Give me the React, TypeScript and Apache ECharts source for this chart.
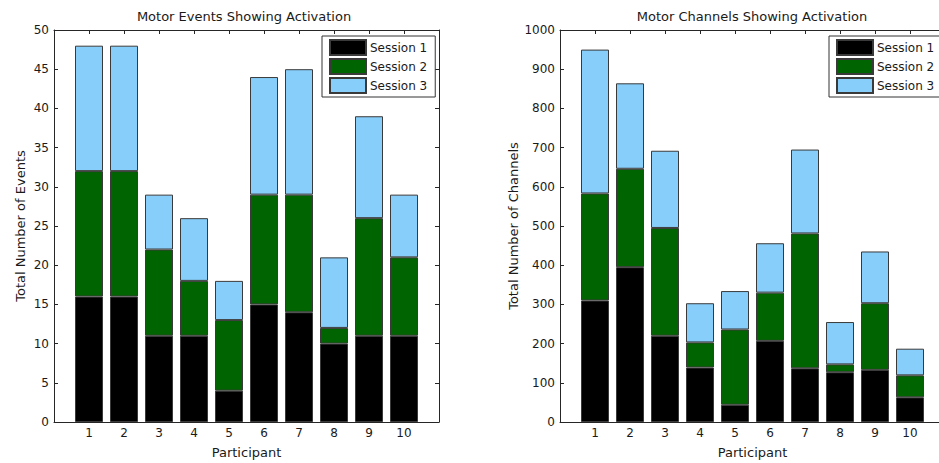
import React, { useEffect, useRef } from "react";
import * as echarts from "echarts";

const participants = [1, 2, 3, 4, 5, 6, 7, 8, 9, 10];
const sessionNames = ["Session 1", "Session 2", "Session 3"];
const sessionColors = ["#000000", "#006400", "#87CEFA"];

const eventsS1 = [16, 16, 11, 11, 4, 15, 14, 10, 11, 11];
const eventsS2 = [16, 16, 11, 7, 9, 14, 15, 2, 15, 10];
const eventsS3 = [16, 16, 7, 8, 5, 15, 16, 9, 13, 8];

const channelsS1 = [310, 395, 220, 139, 44, 207, 137, 127, 133, 63];
const channelsS2 = [273, 251, 275, 64, 192, 123, 344, 20, 170, 56];
const channelsS3 = [367, 218, 197, 100, 98, 126, 214, 108, 132, 68];

const leftTitle = "Motor Events Showing Activation";
const rightTitle = "Motor Channels Showing Activation";
const xName = "Participant";
const leftYName = "Total Number of Events";
const rightYName = "Total Number of Channels";

const FONT = "DejaVu Sans";
const AX = "#262626";

export default function App() {
  const ref = useRef<HTMLDivElement>(null);
  useEffect(() => {
    if (!ref.current) return;
    const chart = echarts.init(ref.current, undefined, { renderer: "svg" });
    const tickText = { fontFamily: FONT, fontSize: 12, color: "#1a1a1a" };
    const nameText = { fontFamily: FONT, fontSize: 13, color: "#1a1a1a" };

    // padded category list: empty slot on each side gives the 0..11 range
    const cats = ["", ...participants.map(String), ""];

    const xAxisBase = (gridIndex: number, position: "bottom" | "top") => ({
      type: "category",
      gridIndex,
      position,
      data: cats,
      boundaryGap: false,
      axisLine: { show: true, onZero: false, lineStyle: { color: AX, width: 1 } },
      axisTick: { show: true, inside: true, length: 4, interval: 0, lineStyle: { color: AX } },
      splitLine: { show: false },
      axisLabel: { show: position === "bottom", margin: 5, interval: 0, ...tickText },
      name: position === "bottom" ? xName : "",
      nameLocation: "middle",
      nameGap: 24,
      nameTextStyle: nameText,
    });

    const yAxisBase = (
      gridIndex: number,
      position: "left" | "right",
      max: number,
      interval: number,
      name: string,
      nameGap: number
    ) => ({
      type: "value",
      gridIndex,
      position,
      min: 0,
      max,
      interval,
      axisLine: { show: true, onZero: false, lineStyle: { color: AX, width: 1 } },
      axisTick: { show: true, inside: true, length: 4, lineStyle: { color: AX } },
      splitLine: { show: false },
      axisLabel: {
        show: position === "left",
        margin: 5,
        ...tickText,
        formatter: (v: number) => String(v),
      },
      name: position === "left" ? name : "",
      nameLocation: "middle",
      nameGap,
      nameTextStyle: nameText,
    });

    const makeSeries = (
      arrays: number[][],
      xAxisIndex: number,
      yAxisIndex: number,
      stack: string
    ) =>
      arrays.map((arr, k) => ({
        name: sessionNames[k],
        type: "bar",
        xAxisIndex,
        yAxisIndex,
        stack,
        barWidth: 28,
        itemStyle: { color: sessionColors[k], borderColor: "#3a3a3a", borderWidth: 1 },
        data: ["-", ...arr, "-"],
      }));

    const legendBase = (left: number) => ({
      left,
      top: 36,
      orient: "vertical",
      data: sessionNames,
      itemWidth: 36,
      itemHeight: 15,
      itemGap: 2,
      padding: [3, 8, 3, 7],
      backgroundColor: "#ffffff",
      borderColor: "#333333",
      borderWidth: 1,
      icon: "rect",
      textStyle: { ...tickText, padding: [0, 0, 0, -1], lineHeight: 17 },
      selectedMode: false,
    });

    chart.setOption({
      animation: false,
      backgroundColor: "#ffffff",
      title: [
        { text: leftTitle, left: 239, top: 5, textAlign: "center", textStyle: { ...nameText, fontWeight: "normal" } },
        { text: rightTitle, left: 747, top: 5, textAlign: "center", textStyle: { ...nameText, fontWeight: "normal" } },
      ],
      grid: [
        { left: 54, top: 30, width: 385, height: 392, containLabel: false, outerBoundsMode: "none" },
        { left: 560, top: 30, width: 385, height: 392, containLabel: false, outerBoundsMode: "none" },
      ],
      xAxis: [
        xAxisBase(0, "bottom"),
        xAxisBase(0, "top"),
        xAxisBase(1, "bottom"),
        xAxisBase(1, "top"),
      ],
      yAxis: [
        yAxisBase(0, "left", 50, 5, leftYName, 27),
        yAxisBase(0, "right", 50, 5, leftYName, 27),
        yAxisBase(1, "left", 1000, 100, rightYName, 40),
        yAxisBase(1, "right", 1000, 100, rightYName, 40),
      ],
      legend: [legendBase(322), legendBase(829)],
      series: [
        ...makeSeries([eventsS1, eventsS2, eventsS3], 0, 0, "events"),
        ...makeSeries([channelsS1, channelsS2, channelsS3], 2, 2, "channels"),
      ],
    });
    return () => chart.dispose();
  }, []);
  return (
    <div
      ref={ref}
      style={{ position: "absolute", left: 0, top: 0, width: 939, height: 463 }}
    />
  );
}
